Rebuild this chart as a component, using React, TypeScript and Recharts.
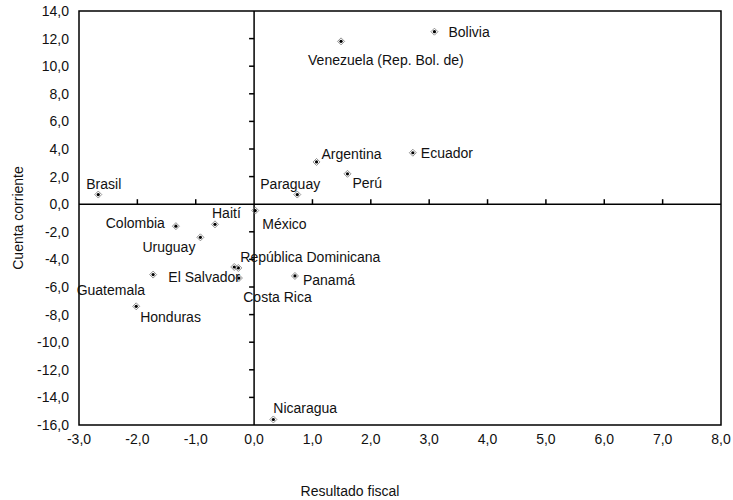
import { ScatterChart, Scatter, XAxis, YAxis, ReferenceLine, ReferenceArea } from 'recharts'

const countries = [
  'Bolivia',
  'Venezuela (Rep. Bol. de)',
  'Argentina',
  'Ecuador',
  'Perú',
  'Paraguay',
  'Brasil',
  'México',
  'Haití',
  'Colombia',
  'Uruguay',
  'República Dominicana',
  'Costa Rica',
  'El Salvador',
  'Guatemala',
  'Honduras',
  'Panamá',
  'Nicaragua',
]
const fiscalBalance = [3.09, 1.49, 1.07, 2.72, 1.6, 0.74, -2.67, 0.02, -0.67, -1.34, -0.92, -0.27, -0.34, -0.26, -1.73, -2.02, 0.7, 0.33]
const currentAccount = [12.5, 11.8, 3.06, 3.73, 2.2, 0.7, 0.7, -0.46, -1.46, -1.59, -2.4, -4.62, -4.55, -5.35, -5.1, -7.4, -5.2, -15.6]

const xTicks = [-3, -2, -1, 0, 1, 2, 3, 4, 5, 6, 7, 8]
const yTicks = [-16, -14, -12, -10, -8, -6, -4, -2, 0, 2, 4, 6, 8, 10, 12, 14]

// label placement relative to the marker: dx, dy (px), anchor
const labelPlacement: Record<string, [number, number, 'start' | 'end']> = {
  Bolivia: [14, 0, 'start'],
  'Venezuela (Rep. Bol. de)': [-33, 19, 'start'],
  Argentina: [5, -8, 'start'],
  Ecuador: [8, 0, 'start'],
  'Perú': [5, 9, 'start'],
  Paraguay: [-37, -11, 'start'],
  Brasil: [-12, -11, 'start'],
  'México': [7, 13, 'start'],
  'Haití': [-3, -11, 'start'],
  Colombia: [-11, -3, 'end'],
  Uruguay: [-5, 10, 'end'],
  'República Dominicana': [2, -11, 'start'],
  'Costa Rica': [9, 30, 'start'],
  'El Salvador': [1, -1, 'end'],
  Guatemala: [-8, 15, 'end'],
  Honduras: [4, 11, 'start'],
  'Panamá': [8, 4, 'start'],
  Nicaragua: [0, -11, 'start'],
}

const data = countries.map((name, i) => ({ name, x: fiscalBalance[i], y: currentAccount[i] }))

// tick marks on the zero lines (inner ticks only)
const zeroTicks = [
  ...yTicks.filter((t) => t !== 0 && t !== -16 && t !== 14).map((t) => ({ x: 0, y: t, dir: 'h' })),
  ...xTicks.filter((t) => t !== 0 && t !== -3 && t !== 8).map((t) => ({ x: t, y: 0, dir: 'v' })),
]

const FONT = '"Liberation Sans", Arial, sans-serif'
const fmt = (v: number) => v.toFixed(1).replace('.', ',')

function Marker(props: any) {
  const { cx, cy, payload } = props
  const [dx, dy, anchor] = labelPlacement[payload.name] ?? [6, 0, 'start']
  return (
    <g>
      <path
        d={`M${cx},${cy - 3.5} L${cx + 3.5},${cy} L${cx},${cy + 3.5} L${cx - 3.5},${cy} Z`}
        fill="none"
        stroke="#777"
        strokeWidth={0.8}
      />
      <circle cx={cx} cy={cy} r={1.6} fill="#000" />
      <text
        x={cx + dx}
        y={cy + dy}
        textAnchor={anchor}
        dominantBaseline="central"
        fontSize={14}
        fontFamily={FONT}
        fill="#111"
      >
        {payload.name}
      </text>
    </g>
  )
}

function TickMark(props: any) {
  const { cx, cy, payload } = props
  const d = payload.dir === 'h' ? `M${cx - 5},${cy}H${cx}` : `M${cx},${cy - 5}V${cy}`
  return <path d={d} stroke="#000" strokeWidth={1.5} fill="none" />
}

export default function App() {
  return (
    <div style={{ position: 'absolute', left: 0, top: 0 }}>
      <ScatterChart width={733} height={500} margin={{ top: 11, right: 12, bottom: 0, left: 0 }}>
        <XAxis
          type="number"
          dataKey="x"
          domain={[-3, 8]}
          ticks={xTicks}
          tickFormatter={fmt}
          tickLine={false}
          axisLine={false}
          tickMargin={3}
          height={75}
          tick={{ fontSize: 14, fontFamily: FONT, fill: '#111' }}
          label={{
            content: ({ viewBox }: any) => (
              <text
                x={viewBox.x + viewBox.width / 2 - 50}
                y={viewBox.y + 71}
                textAnchor="middle"
                fontSize={14}
                fontFamily={FONT}
                fill="#111"
              >
                Resultado fiscal
              </text>
            ),
          }}
        />
        <YAxis
          type="number"
          dataKey="y"
          domain={[-16, 14]}
          ticks={yTicks}
          tickFormatter={fmt}
          tickLine={false}
          axisLine={false}
          tickMargin={4}
          width={79}
          tick={{ fontSize: 14, fontFamily: FONT, fill: '#111' }}
          label={{
            content: ({ viewBox }: any) => {
              const x = 18
              const y = viewBox.y + viewBox.height / 2
              return (
                <text
                  x={x}
                  y={y}
                  transform={`rotate(-90 ${x} ${y})`}
                  textAnchor="middle"
                  dominantBaseline="central"
                  fontSize={14}
                  fontFamily={FONT}
                  fill="#111"
                >
                  Cuenta corriente
                </text>
              )
            },
          }}
        />
        <ReferenceArea x1={-3} x2={8} y1={-16} y2={14} fill="none" fillOpacity={0} stroke="#000" strokeWidth={1.5} />
        <ReferenceLine x={0} stroke="#000" strokeWidth={1.5} />
        <ReferenceLine y={0} stroke="#000" strokeWidth={1.5} />
        <Scatter name="ticks" data={zeroTicks} shape={<TickMark />} isAnimationActive={false} />
        <Scatter name="countries" data={data} shape={<Marker />} isAnimationActive={false} />
      </ScatterChart>
    </div>
  )
}
